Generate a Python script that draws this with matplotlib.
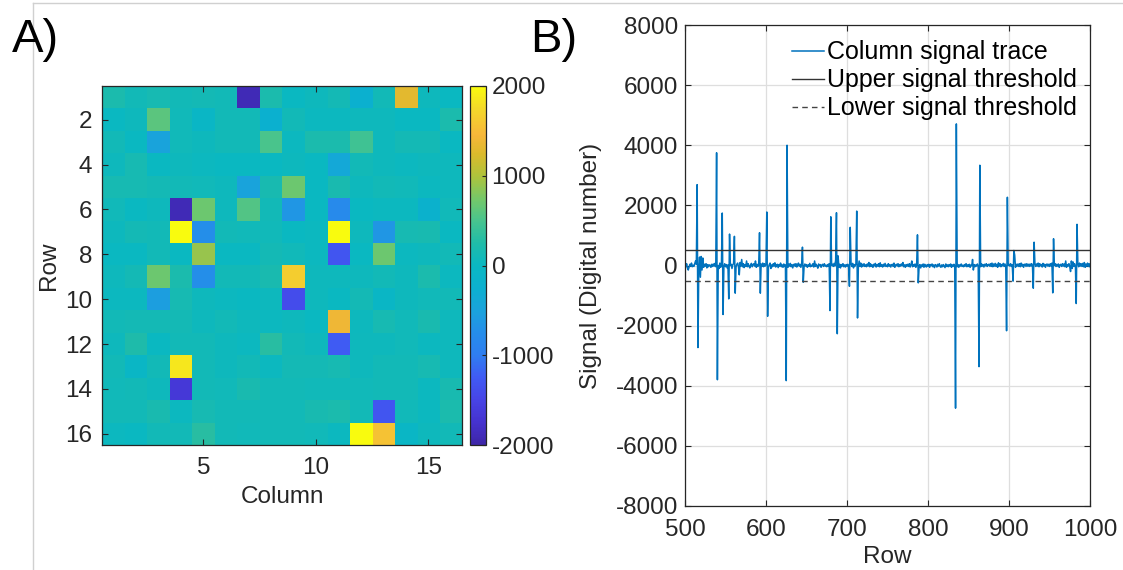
import numpy as np
import matplotlib
matplotlib.use("Agg")
import matplotlib.pyplot as plt
from matplotlib.colors import LinearSegmentedColormap
from matplotlib.lines import Line2D

plt.rcParams['font.family'] = ['Liberation Sans', 'DejaVu Sans']
plt.rcParams['axes.unicode_minus'] = False

# ---------------- data ----------------
heat_rows = list(range(1, 17))
heat_cols = list(range(1, 17))
heat_values = [
    [200, 100, 150, 100, 120, 100, -1900, 200, 0, 50, 120, -250, 100, 1300, 50, 0],
    [0, 50, 600, 80, -50, 100, 100, -250, 100, 20, 30, 50, 50, 0, 0, 200],
    [100, 0, -500, 80, 50, 100, 100, 500, 20, 200, 200, 450, 50, 120, 120, 0],
    [50, 150, 0, 50, 20, 0, 0, 0, 40, 0, -400, 100, 50, 30, 50, 50],
    [150, 150, 120, 100, 80, 50, -500, 170, 700, 0, 180, 50, 100, 80, 30, 50],
    [80, 0, 60, -1900, 700, 50, 550, 100, -650, 0, -800, 0, 20, 20, -200, 80],
    [40, 120, 100, 2000, -750, 100, 80, 80, 0, 30, 2000, 50, -650, 150, 170, 0],
    [0, 0, 100, 0, 900, 0, 0, 120, 80, 20, -1300, 0, 700, 30, 50, 100],
    [50, 120, 700, 200, -750, 100, 100, 180, 1650, 60, 60, 50, 100, 60, 200, 30],
    [30, 20, -550, 150, 50, 20, 0, 40, -1400, 60, 0, 120, -50, 50, 80, 100],
    [100, 120, 120, 120, 60, 100, 50, 20, 50, 0, 1400, 40, 150, 80, 180, 50],
    [50, 220, 0, 100, 100, 60, 20, 300, 100, 50, -1250, 60, 50, 80, 20, 50],
    [100, -50, 100, 1850, 100, 60, 100, 20, 120, 120, 150, 50, 100, 100, 150, 50],
    [80, 100, 50, -1650, 100, 80, 180, 100, 100, 80, 80, 80, 100, 100, 30, 170],
    [100, 100, 180, 30, 150, 100, 100, 100, 100, 170, 200, 100, -1300, 80, 30, 200],
    [30, 0, 100, 100, 300, 100, 80, 100, 100, 80, 30, 2000, 1550, -50, 50, 100],
]

signal_start_row = 500
signal_baseline = [
    20, -40, 60, -80, -150, -60, 40, -20, 80, -40, 10, -30, 60, 150, 40, 0, 0, -120, 280, -390, 300, -150, 250, -60, 40,
    -20, 60, -80, 30, -40, 20, 10, -60, 40, -30, 50, -20, 70, -40, 0, 0, 0, -100, 80, -60, 40, 0, 0, -50, 60,
    -40, 30, -80, 20, -60, 0, 0, 40, -100, 30, 60, 0, 0, -50, 40, 80, -30, -310, 100, -20, 200, -40, 60, -70, 30,
    -30, 150, -40, 60, -20, -80, 20, 70, -40, 30, 60, -20, 150, -60, 40, -30, 20, 0, 0, 50, -30, 80, -40, 60, -20,
    40, 0, 0, -60, 30, 80, -100, 20, -40, 60, -20, 90, -50, 10, 40, -70, 30, -20, 80, -40, 20, -60, 50, -30, 20,
    0, 0, -60, 40, -20, 70, -40, 30, -80, 20, 50, -30, 60, -50, 10, 80, -20, 40, -60, 30, 0, 0, -40, 50, -20,
    30, -60, 20, -30, 70, -40, 10, -20, 60, -50, 150, -30, 40, -20, -90, 50, -10, 30, -60, 20, 40, -30, 60, -20, 10,
    -40, 30, -20, 60, -50, 0, 0, 40, -30, 70, -20, 180, 0, 0, 320, -60, 40, -80, 30, -20, 60, -40, 20, -50, 30,
    -20, 40, -60, 0, 0, 50, -30, 70, -80, 30, -20, 60, 0, 0, -40, 150, -30, 80, -50, 40, -20, 60, -30, 20, -40,
    50, -20, 100, -40, 60, -30, 20, -60, 40, -10, 70, -50, 30, -20, 60, -40, 90, -30, 20, -50, 40, -20, 70, -30, 10,
    -40, 60, -20, 30, -50, 20, 40, -30, 80, -60, 10, 40, -20, 60, -40, 30, -20, 50, -10, 100, -40, 20, -60, 30, -20,
    40, -30, 60, -50, 20, 150, -40, 30, -20, 50, -60, 20, 0, 0, -40, 30, -80, 20, -30, 50, -60, 40, -20, -50, 30,
    -20, 40, -60, 30, -10, 50, -40, 20, -70, 30, 10, -50, 40, -20, 60, -30, -60, 20, -40, 30, -20, -70, 50, -30, 20,
    -40, 30, -20, 50, -60, 20, -30, 40, -10, 0, 0, -40, 30, -60, 20, -20, 50, -30, 10, -40, 30, -20, 60, -40, 20,
    -30, 40, -60, 20, -10, 200, -150, 30, -40, 20, -20, 50, -30, 0, 0, -40, 60, -20, 30, -50, 40, -10, 60, -30, 20,
    40, -20, 60, -30, 80, -40, 50, -20, 70, -30, 40, -60, 90, -20, 60, -40, 30, -10, 70, -30, 50, -20, 40, 0, 0,
    40, -20, 60, -30, 20, 0, 0, 350, -60, 40, -20, 50, -30, 60, -40, 80, -20, 40, -60, 30, 50, -30, 60, -20, 40,
    -30, 50, -20, 60, -40, 0, 0, 70, -30, 50, -20, 80, -40, 60, -10, 30, -50, 70, -20, 40, -60, 30, 50, -20, 40,
    -30, 60, -20, 80, -40, 0, 0, 60, -30, 40, -20, 50, -60, 20, 40, -30, 60, -20, 50, -40, 150, -60, 30, -20, 60,
    -40, -200, 150, -100, 120, -30, 60, -20, 0, 0, 50, -40, 80, -20, 60, -30, 70, -40, 100, -60, 50, -20, 80, -30, 60,
    -40,
]
spike_rows = [515, 516, 539, 540, 546, 547, 554, 555, 561, 562, 592, 593, 601, 602,
              625, 626, 645, 646, 679, 680, 687, 688, 703, 704, 712, 713, 787, 788,
              834, 835, 863, 864, 897, 898, 905, 906, 930, 931, 954, 955, 983, 984]
spike_values = [2690, -2730, 3750, -3800, 1745, -1630, -1110, 1045, 970, -920, 1090, -920, 1780, -1690,
                -3830, 4000, 610, -555, -1500, 1620, 1755, -2270, -690, 1270, 1810, -1745, 1020, -577,
                -4745, 4710, -3365, 3335, -2170, 2270, -520, 500, -755, 775, -910, 890, -1265, 1370]
upper_threshold = 500
lower_threshold = -500

# ---------------- colormap (parula-like) ----------------
parula_pts = [
    (0.000, '#3e26a8'), (0.0625, '#4532cf'), (0.125, '#4744e6'), (0.1875, '#405bf4'),
    (0.25, '#2f7ef0'), (0.3125, '#258eea'), (0.375, '#1aa3dc'), (0.4375, '#0cb0d0'),
    (0.5, '#0ab8c2'), (0.5625, '#20bca8'), (0.625, '#48c48e'), (0.6875, '#76c868'),
    (0.75, '#aec33c'), (0.8125, '#dcba2c'), (0.865, '#f7b73a'), (0.9375, '#f4d82a'),
    (1.0, '#f9fb0e'),
]
parula = LinearSegmentedColormap.from_list('parula', parula_pts, N=256)

W, H = 1123, 570
fig = plt.figure(figsize=(W / 100, H / 100), dpi=100)
fig.patch.set_facecolor('white')

txt = '#262626'
fs = 17.5
fs_leg = 18

# faint frame lines
fig.add_artist(Line2D([33 / W, 33 / W], [0, 1 - 3 / H], color='#d0d0d0', lw=1))
fig.add_artist(Line2D([33 / W, 1], [1 - 3 / H, 1 - 3 / H], color='#d0d0d0', lw=1))

# ---------------- Panel A ----------------
axA = fig.add_axes([102 / W, (H - 445) / H, 360 / W, 359 / H])
data = np.array(heat_values, dtype=float)
im = axA.imshow(data, cmap=parula, vmin=-2000, vmax=2000,
                extent=(heat_cols[0] - 0.5, heat_cols[-1] + 0.5, heat_rows[-1] + 0.5, heat_rows[0] - 0.5),
                aspect='auto', interpolation='nearest')
axA.set_xticks([5, 10, 15])
axA.set_yticks([2, 4, 6, 8, 10, 12, 14, 16])
axA.tick_params(direction='in', top=True, right=True, length=4, width=0.8,
                labelsize=fs, colors=txt)
axA.tick_params(axis='x', pad=9)
axA.tick_params(axis='y', pad=7)
for s in axA.spines.values():
    s.set_color(txt)
    s.set_linewidth(0.9)
axA.set_xlabel('Column', fontsize=fs, color=txt, labelpad=5)
axA.set_ylabel('Row', fontsize=fs, color=txt, labelpad=4)

cax = fig.add_axes([470 / W, (H - 445) / H, 16 / W, 359 / H])
cb = fig.colorbar(im, cax=cax, ticks=[-2000, -1000, 0, 1000, 2000])
cb.outline.set_edgecolor(txt)
cb.outline.set_linewidth(0.9)
cax.tick_params(direction='in', length=3, width=0.8, labelsize=fs, colors=txt, pad=4)

fig.text(12 / W, 1 - 40 / H, 'A)', fontsize=34, va='center', ha='left', color='black')
fig.text(530 / W, 1 - 40 / H, 'B)', fontsize=34, va='center', ha='left', color='black')

# ---------------- Panel B ----------------
axB = fig.add_axes([685 / W, (H - 506) / H, 405 / W, 481 / H])
rows = np.arange(signal_start_row, signal_start_row + len(signal_baseline))
trace = np.array(signal_baseline, dtype=float)
for r, v in zip(spike_rows, spike_values):
    trace[r - signal_start_row] = v
axB.plot(rows, trace, color='#0072BD', lw=1.1, label='Column signal trace')
axB.axhline(upper_threshold, color='#333333', lw=1.0, label='Upper signal threshold')
axB.axhline(lower_threshold, color='#444444', lw=1.0, ls=(0, (4, 3)), label='Lower signal threshold')
axB.set_xlim(500, 1000)
axB.set_ylim(-8000, 8000)
axB.set_xticks(range(500, 1001, 100))
axB.set_yticks(range(-8000, 8001, 2000))
axB.grid(True, color='#dedede', lw=0.9)
axB.set_axisbelow(True)
axB.tick_params(direction='in', top=True, right=True, length=4, width=0.8,
                labelsize=fs, colors=txt)
axB.tick_params(axis='x', pad=9)
axB.tick_params(axis='y', pad=5)
for s in axB.spines.values():
    s.set_color(txt)
    s.set_linewidth(0.9)
axB.set_xlabel('Row', fontsize=fs, color=txt, labelpad=4)
axB.set_ylabel('Signal (Digital number)', fontsize=fs, color=txt, labelpad=10)
leg = axB.legend(loc='upper right', bbox_to_anchor=(0.968, 0.968), frameon=False,
                 fontsize=fs_leg, handlelength=1.28, handletextpad=0.14, labelspacing=0.16,
                 borderpad=0, borderaxespad=0)
for t in leg.get_texts():
    t.set_color('black')

fig.savefig('out.png', dpi=100, facecolor='white')
